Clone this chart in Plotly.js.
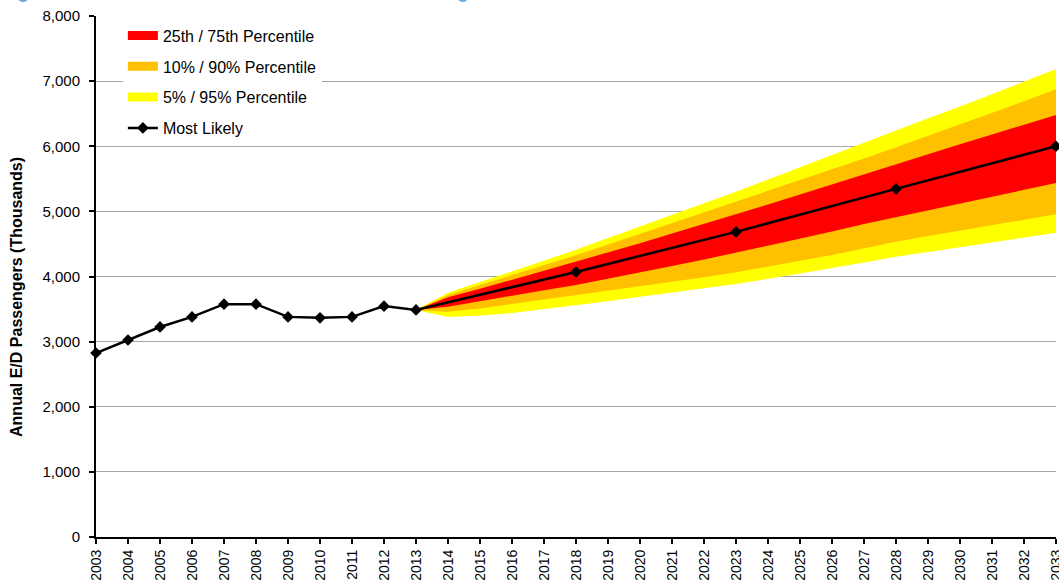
<!DOCTYPE html>
<html>
<head>
<meta charset="utf-8">
<script src="https://cdn.plot.ly/plotly-3.0.1.min.js"></script>
<style>
  html, body { margin: 0; padding: 0; background: #fff; }
  #chart { width: 1059px; height: 580px; }
</style>
</head>
<body>
<div id="chart"></div>
<script>
// ---- Data ----
const histYears = [2003, 2004, 2005, 2006, 2007, 2008, 2009, 2010, 2011, 2012, 2013];
const histValues = [2825, 3025, 3225, 3380, 3575, 3575, 3380, 3365, 3380, 3545, 3486];

const forecastMarkerYears = [2018, 2023, 2028, 2033];
const forecastMarkerValues = [4070, 4685, 5345, 6000];

const bandYears = [2013, 2014, 2015, 2016, 2017, 2018, 2019, 2020, 2021, 2022, 2023,
                   2024, 2025, 2026, 2027, 2028, 2029, 2030, 2031, 2032, 2033];
const p95 = [3486, 3750, 3915, 4080, 4245, 4410, 4590, 4765, 4945, 5120, 5300,
             5490, 5680, 5870, 6060, 6250, 6430, 6610, 6800, 6990, 7185];
const p90 = [3486, 3715, 3870, 4020, 4170, 4325, 4490, 4655, 4820, 4985, 5145,
             5310, 5475, 5640, 5810, 5985, 6160, 6335, 6510, 6690, 6875];
const p75 = [3486, 3680, 3810, 3950, 4085, 4220, 4365, 4510, 4660, 4805, 4950,
             5105, 5260, 5415, 5570, 5730, 5880, 6030, 6180, 6330, 6480];
const p25 = [3486, 3535, 3620, 3705, 3790, 3870, 3965, 4060, 4160, 4260, 4360,
             4470, 4580, 4690, 4805, 4920, 5025, 5130, 5230, 5330, 5435];
const p10 = [3486, 3460, 3510, 3570, 3640, 3715, 3780, 3850, 3920, 3990, 4065,
             4150, 4240, 4330, 4430, 4535, 4620, 4705, 4790, 4870, 4955];
const p5  = [3486, 3380, 3400, 3440, 3500, 3560, 3620, 3690, 3760, 3820, 3885,
             3965, 4045, 4125, 4215, 4305, 4375, 4450, 4520, 4600, 4670];

const allYears = [];
for (let y = 2003; y <= 2033; y++) allYears.push(y);
const yTickVals = [0, 1000, 2000, 3000, 4000, 5000, 6000, 7000, 8000];

const seriesNames = ['25th / 75th Percentile', '10% / 90% Percentile', '5% / 95% Percentile', 'Most Likely'];
const yTitle = 'Annual E/D Passengers (Thousands)';
const colors = { red: '#ff0000', orange: '#ffc000', yellow: '#ffff00', line: '#000000' };

// ---- Build traces ----
function band(lower, upper, color) {
  return {
    x: bandYears.concat(bandYears.slice().reverse()),
    y: upper.concat(lower.slice().reverse()),
    type: 'scatter', mode: 'lines', fill: 'toself',
    fillcolor: color, line: { width: 0, color: color },
    hoverinfo: 'skip', showlegend: false
  };
}

const lineX = histYears.concat(forecastMarkerYears);
const lineY = histValues.concat(forecastMarkerValues);

const traces = [
  band(p5, p95, colors.yellow),
  band(p10, p90, colors.orange),
  band(p25, p75, colors.red),
  {
    x: lineX, y: lineY, type: 'scatter', mode: 'lines+markers',
    line: { color: colors.line, width: 2.5 },
    marker: { symbol: 'diamond', size: 9, color: colors.line },
    cliponaxis: false, showlegend: false
  },
  // legend entries
  { x: [null], y: [null], type: 'scatter', mode: 'lines', name: seriesNames[0],
    line: { color: colors.red, width: 9 }, legendgroup: 'a' },
  { x: [null], y: [null], type: 'scatter', mode: 'lines', name: seriesNames[1],
    line: { color: colors.orange, width: 9 }, legendgroup: 'b' },
  { x: [null], y: [null], type: 'scatter', mode: 'lines', name: seriesNames[2],
    line: { color: colors.yellow, width: 9 }, legendgroup: 'c' },
  { x: [null], y: [null], type: 'scatter', mode: 'lines+markers', name: seriesNames[3],
    line: { color: colors.line, width: 2.5 }, marker: { symbol: 'diamond', size: 9, color: colors.line },
    legendgroup: 'd' }
];

const font = 'Liberation Sans, Arial, Helvetica, sans-serif';

const layout = {
  width: 1059, height: 580,
  margin: { l: 96, r: 3, t: 16, b: 43 },
  paper_bgcolor: '#ffffff', plot_bgcolor: '#ffffff',
  font: { family: font, color: '#000000', size: 13 },
  separators: '.,',
  showlegend: true,
  legend: {
    x: 0.028, y: 0.995, xanchor: 'left', yanchor: 'top',
    bgcolor: '#ffffff', borderwidth: 0,
    font: { family: font, size: 16, color: '#000000' },
    tracegroupgap: 7, traceorder: 'grouped',
    itemwidth: 30
  },
  xaxis: {
    range: [2003, 2033], tickmode: 'array', tickvals: allYears,
    ticktext: allYears.map(String), tickangle: -90,
    tickfont: { family: font, size: 14, color: '#000000' },
    ticklabeloverflow: 'allow',
    ticks: 'outside', ticklen: 5, tickwidth: 2, tickcolor: '#000000',
    showline: true, linecolor: '#000000', linewidth: 2,
    showgrid: false, zeroline: false, fixedrange: true
  },
  yaxis: {
    range: [0, 8000], tickmode: 'array', tickvals: yTickVals,
    tickformat: ',d',
    tickfont: { family: font, size: 15, color: '#000000' },
    ticklabelstandoff: 6,
    ticks: 'outside', ticklen: 5, tickwidth: 2, tickcolor: '#000000',
    showline: true, linecolor: '#000000', linewidth: 2,
    showgrid: true, gridcolor: '#a6a6a6', gridwidth: 1,
    zeroline: false, fixedrange: true
  },
  annotations: [
    { text: '<b>' + yTitle + '</b>', xref: 'paper', yref: 'paper',
      x: -0.0823, y: 0.4607, xanchor: 'center', yanchor: 'middle',
      textangle: -90, showarrow: false,
      font: { family: font, size: 16, color: '#000000' } }
  ],
  shapes: [
    { type: 'circle', xref: 'paper', yref: 'paper',
      x0: -0.081, x1: -0.071, y0: 1.027, y1: 1.040,
      fillcolor: '#6fa8dc', line: { width: 0 } },
    { type: 'circle', xref: 'paper', yref: 'paper',
      x0: 0.377, x1: 0.387, y0: 1.027, y1: 1.040,
      fillcolor: '#6fa8dc', line: { width: 0 } }
  ]
};

Plotly.newPlot('chart', traces, layout, { displayModeBar: false, staticPlot: true });
</script>
</body>
</html>
